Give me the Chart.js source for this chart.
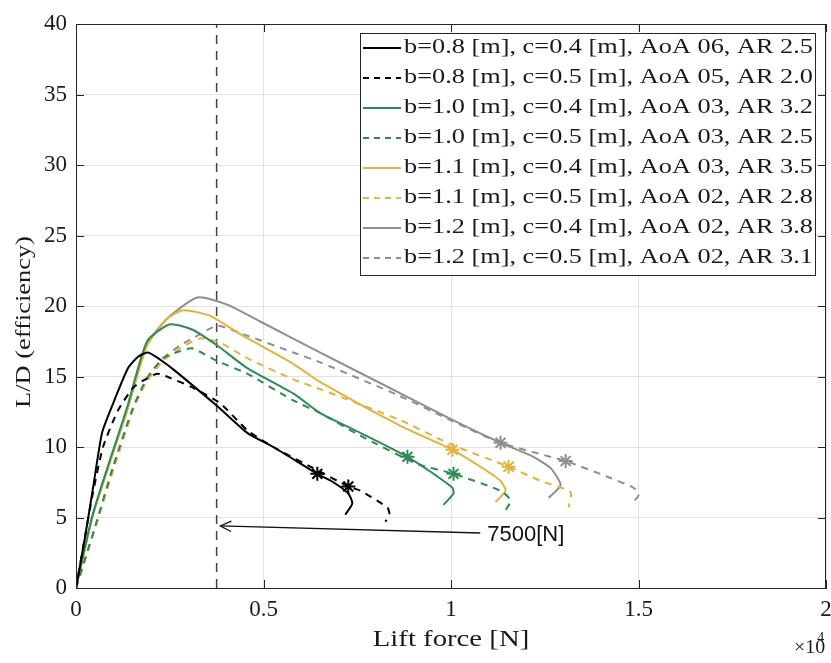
<!DOCTYPE html>
<html>
<head>
<meta charset="utf-8">
<script src="https://cdn.jsdelivr.net/npm/chart.js"></script>
<style>
  body { margin: 0; background: #fff; }
  #wrap { width: 831px; height: 663px; }
</style>
</head>
<body>
<div id="wrap"><canvas id="grafico" width="831" height="663"></canvas></div>
<script>
// --- dados (força de sustentação em N, L/D) ---
const labels = [
    'b=0.8 [m], c=0.4 [m], AoA 06, AR 2.5',
    'b=0.8 [m], c=0.5 [m], AoA 05, AR 2.0',
    'b=1.0 [m], c=0.4 [m], AoA 03, AR 3.2',
    'b=1.0 [m], c=0.5 [m], AoA 03, AR 2.5',
    'b=1.1 [m], c=0.4 [m], AoA 03, AR 3.5',
    'b=1.1 [m], c=0.5 [m], AoA 02, AR 2.8',
    'b=1.2 [m], c=0.4 [m], AoA 02, AR 3.8',
    'b=1.2 [m], c=0.5 [m], AoA 02, AR 3.1'
];

const b08c04X = [0, 240, 454, 694, 961, 1388, 1655, 1922, 2296, 2643, 3765, 4566, 5260, 6435, 6862, 7262, 7369, 7182];
const b08c04Y = [0, 3.6, 7.1, 11.0, 12.9, 15.6, 16.4, 16.7, 16.1, 15.4, 12.9, 11.0, 10.0, 8.1, 7.5, 6.7, 6.0, 5.2];

const b08c05X = [0, 427, 721, 1121, 1522, 1789, 2163, 2510, 3124, 3845, 4566, 5260, 6328, 7262, 7583, 8304, 8360, 8250];
const b08c05Y = [0, 6.4, 10.0, 12.6, 14.2, 14.7, 15.2, 14.9, 14.2, 13.1, 11.2, 10.0, 8.5, 7.2, 6.9, 5.7, 5.2, 4.7];

const b10c04X = [0, 454, 1362, 1896, 2510, 3124, 3765, 4566, 5794, 6515, 7583, 8838, 9532, 10039, 10066, 9799];
const b10c04Y = [0, 5.3, 12.8, 17.5, 18.7, 18.3, 17.2, 15.6, 13.8, 12.4, 11.0, 9.3, 8.1, 7.1, 6.7, 5.9];

const b10c05X = [0, 561, 988, 1522, 1896, 2323, 2777, 3097, 3765, 4566, 5794, 6515, 7583, 9105, 10066, 11320, 11590, 11400];
const b10c05Y = [0, 4.8, 8.6, 12.8, 14.9, 16.3, 16.8, 17.0, 16.1, 15.2, 13.3, 12.4, 10.8, 8.8, 8.1, 6.9, 6.2, 5.3];

const b11c04X = [0, 454, 1362, 1896, 2430, 2857, 3578, 4379, 5794, 6515, 8651, 10039, 10787, 11321, 11455, 11188];
const b11c04Y = [0, 5.2, 12.6, 17.2, 19.1, 19.7, 19.3, 18.0, 15.9, 14.6, 11.5, 9.8, 8.6, 7.6, 6.9, 6.1];

const b11c05X = [0, 561, 988, 1522, 1896, 2323, 2777, 3311, 3845, 4566, 5794, 6515, 8651, 9986, 11535, 12389, 13190, 13137];
const b11c05Y = [0, 4.7, 8.3, 12.6, 14.7, 16.1, 17.0, 17.7, 17.4, 16.3, 14.8, 14.1, 11.9, 10.2, 8.6, 7.6, 6.8, 5.7];

const b12c04X = [0, 454, 1362, 1896, 2430, 3231, 4032, 4913, 6515, 8651, 9986, 11321, 12122, 12656, 12923, 12603];
const b12c04Y = [0, 5.2, 12.6, 17.3, 19.1, 20.6, 20.1, 18.9, 16.7, 13.8, 12.0, 10.3, 9.4, 8.5, 7.3, 6.4];

const b12c05X = [0, 561, 988, 1522, 1896, 2323, 2777, 3311, 3765, 4566, 5794, 6515, 8651, 9986, 11321, 13057, 14258, 14872, 15006, 14792];
const b12c05Y = [0, 4.7, 8.5, 12.7, 14.8, 16.3, 17.2, 18.0, 18.6, 17.9, 16.7, 16.0, 13.6, 11.9, 10.3, 9.0, 7.8, 7.1, 6.6, 5.9];

// índice do ponto marcado com asterisco em cada curva
const starIdx = [13, 13, 11, 14, 11, 14, 11, 15];

// linha vertical de referência (7500 N / 2)
const refLineX = [3750, 3750];
const refLineY = [0, 40];

const xTicks = [0, 5000, 10000, 15000, 20000];
const yTicks = [0, 5, 10, 15, 20, 25, 30, 35, 40];

// --- estilos ---
const seriesX = [b08c04X, b08c05X, b10c04X, b10c05X, b11c04X, b11c05X, b12c04X, b12c05X];
const seriesY = [b08c04Y, b08c05Y, b10c04Y, b10c05Y, b11c04Y, b11c05Y, b12c04Y, b12c05Y];
const colors = ['#000000', '#000000', '#2e8b57', '#2e8b57', '#e3b23c', '#e3b23c', '#8f8f8f', '#8f8f8f'];
const dashes = [[], [7, 6], [], [7, 6], [], [7, 6], [], [7, 6]];
const FONT = 'Liberation Serif';

const toPoints = (xs, ys) => xs.map((x, i) => ({ x: x, y: ys[i] }));

const datasets = seriesX.map((xs, k) => ({
    label: labels[k],
    data: toPoints(xs, seriesY[k]),
    borderColor: colors[k],
    backgroundColor: colors[k],
    borderWidth: 2,
    borderDash: dashes[k],
    tension: 0.2,
    pointStyle: 'star',
    pointRadius: ctx => ctx.dataIndex === starIdx[k] ? 7 : 0,
    pointBorderWidth: 2,
    pointHoverRadius: 0,
    showLine: true,
    fill: false
}));

datasets.push({
    label: '',
    data: toPoints(refLineX, refLineY),
    borderColor: '#444444',
    borderWidth: 1.5,
    borderDash: [9, 7],
    pointRadius: 0,
    showLine: true
});

// texto esticado na horizontal (aproxima a fonte do LaTeX)
function stretchText(ctx, text, x, y, font, sx, align, rot) {
    ctx.save();
    ctx.font = font;
    ctx.translate(x, y);
    if (rot) ctx.rotate(rot);
    ctx.scale(sx, 1);
    ctx.textAlign = align;
    ctx.textBaseline = 'middle';
    ctx.fillText(text, 0, 0);
    ctx.restore();
}

const decoracao = {
    id: 'decoracao',
    afterDraw(chart) {
        const ctx = chart.ctx;
        const a = chart.chartArea;
        const xs = chart.scales.x;
        const ys = chart.scales.y;

        ctx.save();
        ctx.strokeStyle = '#262626';
        ctx.lineWidth = 1;

        // moldura
        ctx.strokeRect(Math.round(a.left) + 0.5, Math.round(a.top) + 0.5,
            Math.round(a.right - a.left) - 1, Math.round(a.bottom - a.top));

        // ticks para dentro
        ctx.beginPath();
        xTicks.forEach(v => {
            const px = Math.round(xs.getPixelForValue(v)) + 0.5;
            ctx.moveTo(px, a.bottom); ctx.lineTo(px, a.bottom - 8);
            ctx.moveTo(px, a.top); ctx.lineTo(px, a.top + 8);
        });
        yTicks.forEach(v => {
            const py = Math.round(ys.getPixelForValue(v)) + 0.5;
            ctx.moveTo(a.left, py); ctx.lineTo(a.left + 8, py);
            ctx.moveTo(a.right, py); ctx.lineTo(a.right - 8, py);
        });
        ctx.stroke();

        // títulos dos eixos
        ctx.fillStyle = '#1a1a1a';
        stretchText(ctx, 'Lift force [N]', (a.left + a.right) / 2, 640, '23px "' + FONT + '"', 1.25, 'center');
        stretchText(ctx, 'L/D (efficiency)', 24, 322, '22px "' + FONT + '"', 1.2, 'center', -Math.PI / 2);
        stretchText(ctx, '\u00d710', 794, 648, '19px "' + FONT + '"', 1.05, 'left');
        stretchText(ctx, '4', 817, 638, '14px "' + FONT + '"', 1.05, 'left');

        // seta e anotação
        const tx = xs.getPixelForValue(10780), ty = ys.getPixelForValue(3.9);
        const hx = xs.getPixelForValue(3850), hy = ys.getPixelForValue(4.4);
        ctx.strokeStyle = '#111';
        ctx.fillStyle = '#111';
        ctx.lineWidth = 1.3;
        ctx.beginPath();
        ctx.moveTo(tx, ty); ctx.lineTo(hx, hy);
        ctx.stroke();
        const ang = Math.atan2(ty - hy, tx - hx);
        ctx.beginPath();
        ctx.moveTo(hx + 12 * Math.cos(ang - 0.45), hy + 12 * Math.sin(ang - 0.45));
        ctx.lineTo(hx, hy);
        ctx.lineTo(hx + 12 * Math.cos(ang + 0.45), hy + 12 * Math.sin(ang + 0.45));
        ctx.stroke();
        ctx.font = '22px "Liberation Sans"';
        ctx.textAlign = 'left';
        ctx.textBaseline = 'middle';
        ctx.fillText('7500[N]', tx + 7, ty + 2);

        // legenda
        const lx = 360, ly = 33, lw = 455, lh = 242;
        ctx.fillStyle = '#fff';
        ctx.fillRect(lx, ly, lw, lh);
        ctx.strokeStyle = '#262626';
        ctx.lineWidth = 1;
        ctx.setLineDash([]);
        ctx.strokeRect(lx + 0.5, ly + 0.5, lw, lh);
        const legFont = '20px "' + FONT + '"';
        ctx.font = legFont;
        const sx = 409 / ctx.measureText(labels[0]).width;
        labels.forEach((t, i) => {
            const ry = 48 + i * 30;
            ctx.save();
            ctx.strokeStyle = colors[i];
            ctx.lineWidth = 2;
            ctx.setLineDash(i % 2 ? [6, 5] : []);
            ctx.beginPath();
            ctx.moveTo(363, ry); ctx.lineTo(401, ry);
            ctx.stroke();
            ctx.restore();
            ctx.fillStyle = '#1a1a1a';
            stretchText(ctx, t, 404, ry, legFont, sx, 'left');
        });
        ctx.restore();
    }
};

new Chart(document.getElementById('grafico').getContext('2d'), {
    type: 'scatter',
    data: { datasets: datasets },
    options: {
        responsive: false,
        animation: false,
        events: [],
        layout: { padding: { top: 24, right: 5, left: 0, bottom: 0 } },
        plugins: {
            legend: { display: false },
            tooltip: { enabled: false },
            title: { display: false }
        },
        scales: {
            x: {
                type: 'linear',
                min: 0, max: 20000,
                afterFit: s => { s.height = 75; s.paddingLeft = 0; s.paddingRight = 0; },
                afterBuildTicks: s => { s.ticks = xTicks.map(v => ({ value: v })); },
                ticks: {
                    padding: 8,
                    color: '#1a1a1a',
                    font: { family: FONT, size: 23 },
                    maxRotation: 0,
                    callback: v => String(v / 10000)
                },
                grid: { color: '#e3e3e3', drawTicks: false },
                border: { color: '#262626' }
            },
            y: {
                type: 'linear',
                min: 0, max: 40,
                afterFit: s => { s.width = 76; s.paddingTop = 0; s.paddingBottom = 0; },
                afterBuildTicks: s => { s.ticks = yTicks.map(v => ({ value: v })); },
                ticks: {
                    padding: 9,
                    color: '#1a1a1a',
                    font: { family: FONT, size: 23 }
                },
                grid: { color: '#e3e3e3', drawTicks: false },
                border: { color: '#262626' }
            }
        }
    },
    plugins: [decoracao]
});
</script>
</body>
</html>
